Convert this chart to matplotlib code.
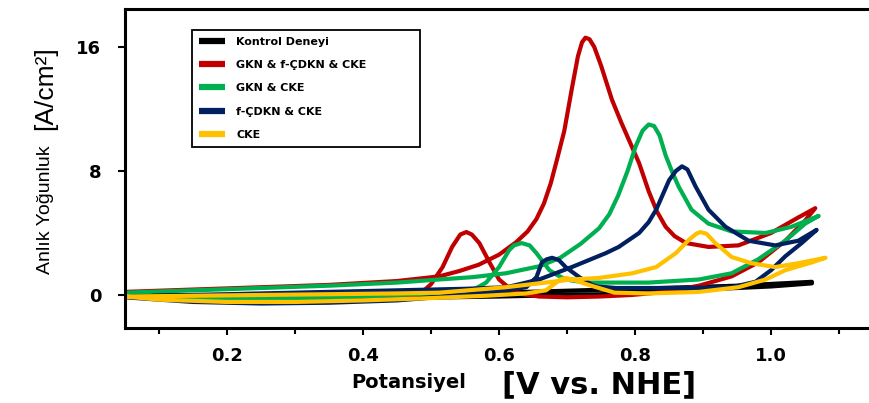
import matplotlib
matplotlib.use("Agg")
import matplotlib.pyplot as plt
from matplotlib.ticker import MultipleLocator

plt.rcParams['font.family'] = ['DejaVu Sans']

labels = ["Kontrol Deneyi", "GKN & f-ÇDKN & CKE", "GKN & CKE", "f-ÇDKN & CKE", "CKE"]
colors = ["#000000", "#C00000", "#00B050", "#002060", "#FFC000"]

# Kontrol Deneyi (forward / backward scan)
black_fx = [0.05, 0.20, 0.40, 0.60, 0.80, 0.95, 1.06]
black_fy = [0.00, 0.00, 0.05, 0.15, 0.40, 0.60, 0.85]
black_bx = [1.06, 1.00, 0.90, 0.75, 0.60, 0.45, 0.30, 0.15, 0.05]
black_by = [0.75, 0.55, 0.35, 0.05, -0.10, -0.20, -0.15, -0.10, 0.00]

# GKN & f-CDKN & CKE
red_fx = [0.05, 0.15, 0.25, 0.35, 0.45, 0.512, 0.542, 0.570, 0.600, 0.625, 0.642, 0.655, 0.666,
          0.676, 0.685, 0.696, 0.707, 0.716, 0.722, 0.727, 0.733, 0.740, 0.750, 0.766, 0.780,
          0.795, 0.806, 0.820, 0.832, 0.845, 0.858, 0.875, 0.908, 0.952, 1.000, 1.040, 1.065]
red_fy = [0.20, 0.35, 0.50, 0.65, 0.90, 1.20, 1.55, 1.95, 2.60, 3.40, 4.10, 4.90, 5.90,
          7.20, 8.70, 10.6, 13.3, 15.4, 16.3, 16.6, 16.5, 16.0, 14.8, 12.6, 11.1,
          9.60, 8.50, 6.70, 5.40, 4.40, 3.80, 3.35, 3.10, 3.20, 4.00, 5.00, 5.60]
red_bx = [1.065, 1.050, 1.021, 0.981, 0.942, 0.894, 0.845, 0.795, 0.747, 0.700, 0.659, 0.635,
          0.619, 0.600, 0.586, 0.571, 0.560, 0.552, 0.543, 0.531, 0.517, 0.500, 0.485, 0.460,
          0.400, 0.300, 0.200, 0.120, 0.050]
red_by = [5.60, 4.80, 3.50, 2.10, 1.20, 0.60, 0.20, 0.00, -0.10, -0.15, -0.10, 0.05,
          0.30, 1.00, 2.10, 3.35, 3.90, 4.06, 3.90, 3.10, 1.80, 0.70, 0.10, -0.20,
          -0.35, -0.45, -0.45, -0.30, -0.05]

# GKN & CKE
green_fx = [0.05, 0.15, 0.25, 0.35, 0.45, 0.512, 0.561, 0.610, 0.659, 0.690, 0.720, 0.747,
            0.762, 0.775, 0.789, 0.801, 0.811, 0.820, 0.828, 0.836, 0.845, 0.855, 0.864,
            0.883, 0.908, 0.942, 0.992, 1.030, 1.070]
green_fy = [0.15, 0.30, 0.45, 0.60, 0.80, 1.00, 1.15, 1.40, 1.85, 2.40, 3.30, 4.30,
            5.20, 6.40, 8.00, 9.60, 10.6, 11.0, 10.9, 10.3, 9.00, 7.90, 7.00,
            5.50, 4.60, 4.10, 4.00, 4.40, 5.10]
green_bx = [1.070, 1.050, 1.021, 0.981, 0.942, 0.894, 0.820, 0.772, 0.732, 0.712, 0.698, 0.685,
            0.674, 0.655, 0.645, 0.633, 0.622, 0.615, 0.600, 0.581, 0.565, 0.552, 0.500,
            0.400, 0.300, 0.200, 0.100, 0.050]
green_by = [5.10, 4.60, 3.50, 2.30, 1.40, 1.00, 0.80, 0.80, 0.80, 0.90, 1.00, 1.30,
            1.60, 2.70, 3.20, 3.35, 3.20, 2.90, 1.80, 0.80, 0.40, 0.30, 0.10,
            -0.10, -0.20, -0.25, -0.10, 0.05]

# f-CDKN & CKE
blue_fx = [0.05, 0.15, 0.25, 0.35, 0.45, 0.55, 0.611, 0.659, 0.707, 0.757, 0.776, 0.806,
           0.820, 0.831, 0.842, 0.850, 0.860, 0.869, 0.877, 0.889, 0.908, 0.933, 0.967,
           1.006, 1.040, 1.067]
blue_fy = [-0.10, 0.00, 0.10, 0.20, 0.30, 0.40, 0.50, 1.00, 1.80, 2.70, 3.10, 4.00,
           4.70, 5.50, 6.60, 7.40, 8.00, 8.30, 8.10, 7.00, 5.50, 4.40, 3.50,
           3.20, 3.50, 4.20]
blue_bx = [1.067, 1.045, 1.021, 1.000, 0.977, 0.942, 0.869, 0.772, 0.745, 0.737, 0.718, 0.698,
           0.688, 0.678, 0.670, 0.663, 0.655, 0.640, 0.610, 0.550, 0.450, 0.350, 0.250,
           0.150, 0.050]
blue_by = [4.20, 3.35, 2.50, 1.60, 0.85, 0.50, 0.45, 0.45, 0.55, 0.65, 1.15, 1.80,
           2.25, 2.40, 2.30, 2.10, 1.15, 0.50, 0.30, 0.00, -0.35, -0.50, -0.55,
           -0.45, -0.15]

# CKE
yellow_fx = [0.05, 0.15, 0.25, 0.35, 0.45, 0.512, 0.610, 0.707, 0.747, 0.796, 0.831, 0.860,
             0.879, 0.890, 0.896, 0.905, 0.918, 0.942, 0.971, 1.006, 1.040, 1.080]
yellow_fy = [-0.10, -0.05, 0.00, 0.05, 0.10, 0.15, 0.50, 1.00, 1.10, 1.40, 1.80, 2.70,
             3.55, 3.95, 4.06, 3.95, 3.35, 2.45, 2.05, 1.80, 2.05, 2.40]
yellow_bx = [1.080, 1.060, 1.040, 1.021, 0.992, 0.952, 0.894, 0.820, 0.770, 0.743, 0.728,
             0.718, 0.708, 0.698, 0.690, 0.684, 0.669, 0.640, 0.580, 0.500, 0.400, 0.300,
             0.200, 0.100, 0.050]
yellow_by = [2.40, 2.10, 1.85, 1.60, 1.00, 0.50, 0.20, 0.10, 0.15, 0.50, 0.70,
             0.85, 1.00, 1.10, 1.00, 0.80, 0.30, 0.10, -0.05, -0.20, -0.35, -0.45,
             -0.45, -0.30, -0.10]

series = [
    (black_fx + black_bx, black_fy + black_by),
    (red_fx + red_bx, red_fy + red_by),
    (green_fx + green_bx, green_fy + green_by),
    (blue_fx + blue_bx, blue_fy + blue_by),
    (yellow_fx + yellow_bx, yellow_fy + yellow_by),
]

x_ticks = [0.2, 0.4, 0.6, 0.8, 1.0]
y_ticks = [0, 8, 16]

fig = plt.figure(figsize=(8.69, 4.03), dpi=100)
ax = fig.add_axes([125 / 869, 75 / 403, 744 / 869, 319 / 403])

for (xs, ys), c, lab in zip(series, colors, labels):
    ax.plot(xs, ys, color=c, lw=3.0, label=lab, solid_capstyle='round', solid_joinstyle='round')

ax.set_xlim(0.05, 1.144)
ax.set_ylim(-2.13, 18.45)
ax.set_xticks(x_ticks)
ax.set_xticklabels([f"{v:.1f}" for v in x_ticks])
ax.xaxis.set_minor_locator(MultipleLocator(0.1))
ax.set_yticks(y_ticks)
ax.tick_params(axis='both', which='major', direction='out', length=5, width=1.5, labelsize=13)
ax.tick_params(axis='x', which='minor', direction='out', length=4, width=1.5)
for lbl in ax.get_xticklabels() + ax.get_yticklabels():
    lbl.set_fontweight('bold')
ax.tick_params(axis='x', pad=9)
ax.tick_params(axis='y', pad=12)
for s in ['left', 'bottom', 'top']:
    ax.spines[s].set_linewidth(2.2)
ax.spines['right'].set_visible(False)

leg = ax.legend(loc='upper left', bbox_to_anchor=(0.09, 0.934 - 118 / 319, 228 / 744, 118 / 319),
                mode='expand', fancybox=False, edgecolor='black', framealpha=1,
                prop={'weight': 'bold', 'size': 8}, handlelength=2.4, handletextpad=1.0,
                labelspacing=1.2, borderpad=0.6, borderaxespad=0)
leg.get_frame().set_linewidth(1.3)
for h in leg.legend_handles:
    h.set_linewidth(4.5)
    h.set_solid_capstyle('butt')

fig.text(409 / 869, 1 - 383 / 403, "Potansiyel", ha='center', va='center',
         fontsize=14, fontweight='bold')
fig.text(599 / 869, 1 - 385 / 403, "[V vs. NHE]", ha='center', va='center',
         fontsize=22, fontweight='bold')
fig.text(45 / 869, 1 - 210 / 403, "Anlık Yoğunluk", ha='center', va='center', rotation=90,
         fontsize=14, family=['Liberation Sans', 'DejaVu Sans'])
fig.text(45 / 869, 1 - 88 / 403, "[A/cm²]", ha='center', va='center', rotation=90,
         fontsize=19, family=['Liberation Sans', 'DejaVu Sans'])

fig.savefig("out.png", dpi=100)
